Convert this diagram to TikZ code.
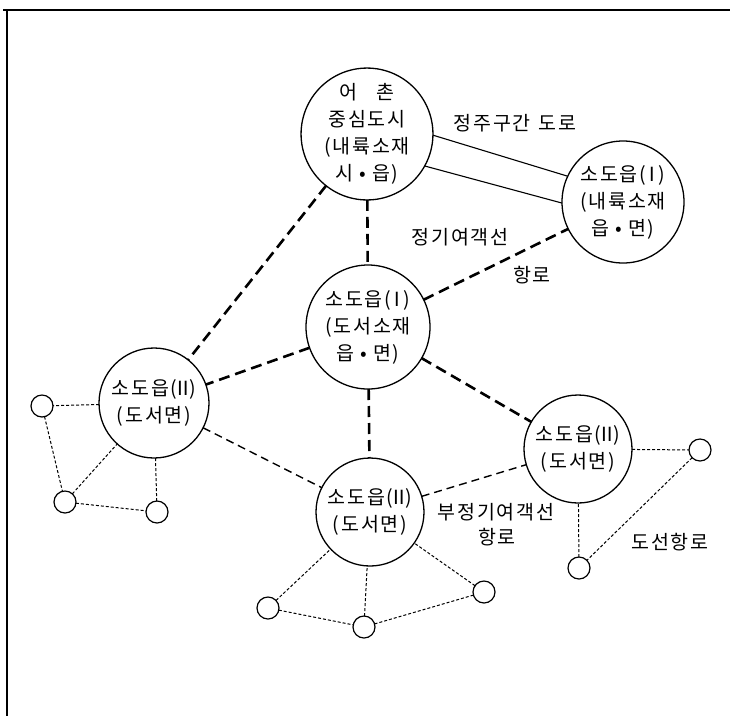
\documentclass[tikz,border=0pt]{standalone}
\usepackage{fontspec}
\newfontfamily\kr[LetterSpace=9]{Noto Sans CJK KR}
\newcommand{\rnum}[1]{(\kern-3.5pt#1\kern-3.5pt)}
\begin{document}
\begin{tikzpicture}[x=1pt,y=-1pt,
  big/.style={circle,draw,line width=1.3pt,minimum size=#1,inner sep=0pt,outer sep=0pt,align=center,font=\kr\fontsize{19.5}{27}\selectfont},
  small/.style={circle,draw,line width=1.2pt,minimum size=22pt,inner sep=0pt,outer sep=0pt},
  heavy/.style={line width=2.6pt,dash pattern=on 11pt off 6pt},
  medium/.style={line width=1.4pt,dash pattern=on 8pt off 5pt},
  fine/.style={line width=1pt,dash pattern=on 3pt off 2pt},
  road/.style={line width=1.1pt},
  frame/.style={line width=2.2pt},
  lbl/.style={font=\kr\fontsize{19.5}{26}\selectfont,inner sep=0pt,align=center}]
\useasboundingbox (0,0) rectangle (730,716);
% frame
\coordinate (f1) at (3,10);
\coordinate (f2) at (730,10);
\coordinate (f3) at (7,9);
\coordinate (f4) at (7,716);
\draw[frame] (f1) -- (f2);
\draw[frame] (f3) -- (f4);
% big circles
\node[big=124] (top) at (367,134) {어\hspace{1em}촌\\중심도시\\(내륙소재\\시 • 읍)};
\node[big=122] (rt) at (623,202) {소도읍\rnum{Ⅰ}\\(내륙소재\\읍 • 면)};
\node[big=124] (mid) at (368,327) {소도읍\rnum{Ⅰ}\\(도서소재\\읍 • 면)};
\node[big=110] (lf) at (154,403) {소도읍\rnum{Ⅱ}\\(도서면)};
\node[big=108] (bt) at (370,512) {소도읍\rnum{Ⅱ}\\(도서면)};
\node[big=108] (rl) at (578,449) {소도읍\rnum{Ⅱ}\\(도서면)};
% small circles
\node[small] (a1) at (42,406) {};
\node[small] (a2) at (65,502) {};
\node[small] (a3) at (157,512) {};
\node[small] (b1) at (268,608) {};
\node[small] (b2) at (364,627) {};
\node[small] (b3) at (484,592) {};
\node[small] (c1) at (700,450) {};
\node[small] (c2) at (579,568) {};
% road (double solid)
\draw[road] (top.-1) -- (rt.155);
\draw[road] (top.-29) -- (rt.181);
% regular ferry routes
\draw[heavy] (top) -- (mid);
\draw[heavy] (top) -- (lf);
\draw[heavy] (mid) -- (rt);
\draw[heavy] (mid) -- (lf);
\draw[heavy] (mid) -- (bt);
\draw[heavy] (mid) -- (rl);
% irregular ferry routes
\draw[medium] (lf) -- (bt);
\draw[medium] (bt) -- (rl);
% small ferry routes
\draw[fine] (lf) -- (a1);
\draw[fine] (a1) -- (a2);
\draw[fine] (a2) -- (lf);
\draw[fine] (a2) -- (a3);
\draw[fine] (a3) -- (lf);
\draw[fine] (b1) -- (bt);
\draw[fine] (b1) -- (b2);
\draw[fine] (b2) -- (bt);
\draw[fine] (b2) -- (b3);
\draw[fine] (b3) -- (bt);
\draw[fine] (rl) -- (c1);
\draw[fine] (c1) -- (c2);
\draw[fine] (c2) -- (rl);
% labels
\node[lbl] (t1) at (515,123) {정주구간\hspace{8pt}도로};
\node[lbl] (t2) at (460,237) {정기여객선};
\node[lbl] (t3) at (532,275) {항로};
\node[lbl] (t4) at (496,512) {부정기여객선};
\node[lbl] (t5) at (497,537) {항로};
\node[lbl] (t6) at (670,542) {도선항로};
\end{tikzpicture}
\end{document}
